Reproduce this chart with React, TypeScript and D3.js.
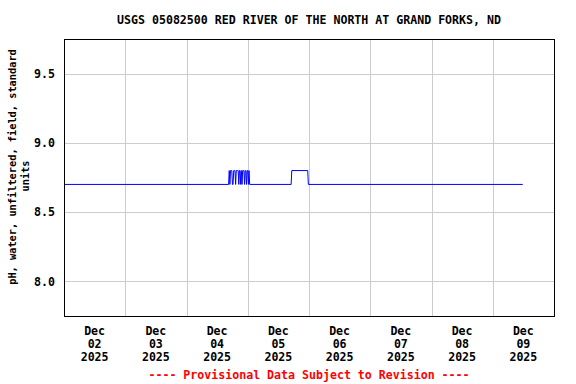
import React from "react";
import * as d3 from "d3";

const title = "USGS 05082500 RED RIVER OF THE NORTH AT GRAND FORKS, ND";
const yLabelLines = ["pH, water, unfiltered, field, standard", "units"];
const footer = "---- Provisional Data Subject to Revision ----";
const yTicks = [8.0, 8.5, 9.0, 9.5];
const xTickDays = ["2025-12-02", "2025-12-03", "2025-12-04", "2025-12-05", "2025-12-06", "2025-12-07", "2025-12-08", "2025-12-09"];

// pH observations (timestamp, value)
const times = [
  "2025-12-02T00:00", "2025-12-04T16:30",
  "2025-12-04T16:45", "2025-12-04T17:00", "2025-12-04T17:15", "2025-12-04T17:30", "2025-12-04T17:45",
  "2025-12-04T18:00", "2025-12-04T18:15", "2025-12-04T18:30", "2025-12-04T18:45", "2025-12-04T19:00",
  "2025-12-04T19:15", "2025-12-04T19:30", "2025-12-04T19:45", "2025-12-04T20:00", "2025-12-04T20:15",
  "2025-12-04T20:30", "2025-12-04T20:45", "2025-12-04T21:00", "2025-12-04T21:15", "2025-12-04T21:30",
  "2025-12-04T21:45", "2025-12-04T22:00", "2025-12-04T22:15", "2025-12-04T22:30", "2025-12-04T22:45",
  "2025-12-04T23:00", "2025-12-04T23:15", "2025-12-04T23:30", "2025-12-04T23:45", "2025-12-05T00:00",
  "2025-12-05T00:15", "2025-12-05T00:30", "2025-12-05T00:45",
  "2025-12-05T17:00", "2025-12-05T17:15", "2025-12-05T23:30", "2025-12-05T23:45",
  "2025-12-09T11:45",
];
const values = [
  8.7, 8.7,
  8.8, 8.7, 8.8, 8.8, 8.8,
  8.7, 8.7, 8.8, 8.8, 8.8,
  8.7, 8.8, 8.8, 8.8, 8.8,
  8.7, 8.8, 8.8, 8.7, 8.8,
  8.7, 8.8, 8.8, 8.8, 8.7,
  8.8, 8.8, 8.7, 8.8, 8.8,
  8.7, 8.8, 8.7,
  8.7, 8.8, 8.8, 8.7,
  8.7,
];

const W = 576, H = 384;
const M = { left: 64, right: 554, top: 39, bottom: 316 };
const FONT = "'DejaVu Sans Mono', monospace";

export default function App() {
  const parse = d3.timeParse("%Y-%m-%dT%H:%M");
  const parseDay = d3.timeParse("%Y-%m-%d");
  const x = d3.scaleTime()
    .domain([parseDay("2025-12-02")!, parseDay("2025-12-10")!])
    .range([M.left, M.right]);
  const y = d3.scaleLinear().domain([7.75, 9.75]).range([M.bottom, M.top]);

  const data = times.map((t, i) => ({ t: parse(t)!, v: values[i] }));
  const line = d3.line<{ t: Date; v: number }>().x(d => x(d.t)).y(d => y(d.v));

  const gridDays = d3.timeDay.range(parseDay("2025-12-03")!, parseDay("2025-12-10")!);
  const labelDays = xTickDays.map(s => d3.timeHour.offset(parseDay(s)!, 12));
  const fmtMon = d3.timeFormat("%b");
  const fmtDay = d3.timeFormat("%d");
  const fmtYr = d3.timeFormat("%Y");

  const cx = (M.left + M.right) / 2;

  return (
    <svg width={W} height={H} style={{ position: "absolute", left: 0, top: 0, background: "#fff" }}
      fontFamily={FONT} fontWeight="bold" fontSize={11.6}>
      <rect x={0} y={0} width={W} height={H} fill="#fff" />
      {yTicks.map(v => (
        <line key={"gy" + v} x1={M.left} x2={M.right} y1={Math.round(y(v)) + 0.5} y2={Math.round(y(v)) + 0.5}
          stroke="#cccccc" strokeWidth={1} />
      ))}
      {gridDays.map(d => (
        <line key={"gx" + d.getTime()} y1={M.top} y2={M.bottom} x1={Math.round(x(d)) + 0.5} x2={Math.round(x(d)) + 0.5}
          stroke="#cccccc" strokeWidth={1} />
      ))}
      <path d={line(data) ?? ""} fill="none" stroke="#0000ff" strokeWidth={1} />
      <rect x={M.left + 0.5} y={M.top + 0.5} width={M.right - M.left} height={M.bottom - M.top}
        fill="none" stroke="#000" strokeWidth={1} />
      {yTicks.map(v => (
        <text key={"ty" + v} x={55} y={y(v)} dy="0.36em" textAnchor="end" fill="#000">
          {v.toFixed(1)}
        </text>
      ))}
      {labelDays.map(d => (
        <text key={"tx" + d.getTime()} x={x(d)} textAnchor="middle" fill="#000">
          <tspan x={x(d)} y={335}>{fmtMon(d)}</tspan>
          <tspan x={x(d)} y={348}>{fmtDay(d)}</tspan>
          <tspan x={x(d)} y={361}>{fmtYr(d)}</tspan>
        </text>
      ))}
      <text x={cx} y={24} textAnchor="middle" fill="#000">{title}</text>
      <text transform={`translate(16, 167) rotate(-90)`} x={0} y={0} textAnchor="middle" fill="#000"
        fontSize={10.3}>{yLabelLines[0]}</text>
      <text transform={`translate(29, 176) rotate(-90)`} x={0} y={0} textAnchor="middle" fill="#000"
        fontSize={10.3}>{yLabelLines[1]}</text>
      <text x={cx} y={379} textAnchor="middle" fill="#ff0000">{footer}</text>
    </svg>
  );
}
